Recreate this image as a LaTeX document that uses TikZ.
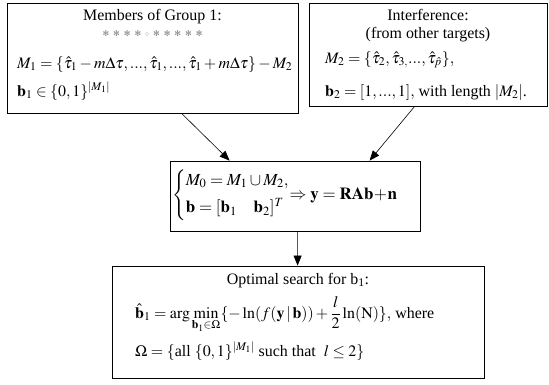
\documentclass[tikz,border=0pt]{standalone}
\usepackage{mathptmx}
\usepackage{fontspec}
\setmainfont{Liberation Serif}
\newfontfamily\djv{DejaVu Sans}
\usetikzlibrary{arrows.meta,calc}
\begin{document}
\begin{tikzpicture}[x=1bp,y=-1bp,
  box/.style={draw, line width=0.8bp, inner sep=0pt},
  txt/.style={inner sep=0pt, font=\fontsize{16}{19}\selectfont},
  arr/.style={-{Triangle[length=10bp,width=8bp]}, line width=0.6bp}]
\useasboundingbox (0,0) rectangle (549,384);
% boxes
\node[box, minimum width=291bp, minimum height=110bp] (b1) at (152.5,58) {};
\node[box, minimum width=238bp, minimum height=103bp] (b2) at (428,54.5) {};
\node[box, minimum width=250bp, minimum height=70bp] (b3) at (295,196) {};
\node[box, minimum width=372bp, minimum height=112bp] (b4) at (298,322) {};
% box 1
\node[txt, anchor=base] (t1) at (152.5,20) {Members of Group 1:};
\node[txt, anchor=center, text=gray] (s1) at (152.5,34) {\fontsize{8}{10}\selectfont\djv ✻\enspace✻\enspace✻\enspace✻\enspace$\circ$\enspace✻\enspace✻\enspace✻\enspace✻\enspace✻};
\node[txt, anchor=base west] (m1) at (17,68) {$M_1=\{\hat{\tau}_1-m\Delta\tau,...,\hat{\tau}_1,...,\hat{\tau}_1+m\Delta\tau\}-M_2$};
\node[txt, anchor=base west] (v1) at (17,96) {$\mathbf{b}_1\in\{0,1\}^{|M_1|}$};
% box 2
\node[txt, anchor=base] (t2) at (428,20) {Interference:};
\node[txt, anchor=base] (t2b) at (428,38) {(from other targets)};
\node[txt, anchor=base west] (m2) at (325,63) {$M_2=\{\hat{\tau}_2,\hat{\tau}_{3,}...,\hat{\tau}_{\hat{p}}\},$};
\node[txt, anchor=base west] (v2) at (325,96) {$\mathbf{b}_2=[1,...,1],$ with length $|M_2|$.};
% box 3
\node[txt, anchor=west, font=\fontsize{17}{20}\selectfont] (e3) at (172,195) {$\left\{\begin{array}{@{}l@{}}M_0=M_1\cup M_2,\\[7bp]\mathbf{b}=[\mathbf{b}_1\quad\mathbf{b}_2]^T\end{array}\right.\!\!\Rightarrow\mathbf{y}=\mathbf{RAb}\!+\!\mathbf{n}$};
% box 4
\node[txt, anchor=base] (t4) at (298,284) {Optimal search for b\textsubscript{1}:};
\node[txt, anchor=base west] (e4) at (135,318) {$\displaystyle\hat{\mathbf{b}}_1=\arg\min_{\mathbf{b}_1\in\Omega}\{-\ln(f(\mathbf{y}\,|\,\mathbf{b}))+\frac{l}{2}\ln(\mathrm{N})\},$ where};
\node[txt, anchor=base west] (o4) at (135,356) {$\Omega=\{$all $\{0,1\}^{|M_1|}$ such that $\ l\le 2\}$};
% arrows
\draw[arr] ([xshift=175bp]b1.south west) -- ([xshift=60bp]b3.north west);
\draw[arr] ([xshift=106bp]b2.south west) -- ([xshift=200bp]b3.north west);
\draw[arr] ([xshift=128bp]b3.south west) -- ([xshift=186bp]b4.north west);
\end{tikzpicture}
\end{document}
